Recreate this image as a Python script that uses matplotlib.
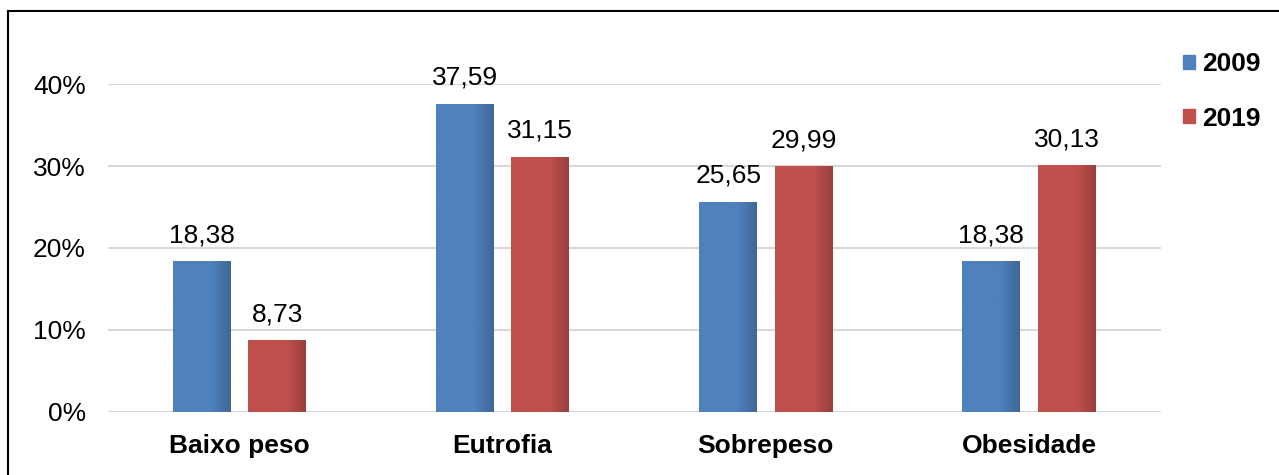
import numpy as np
import matplotlib.pyplot as plt
from matplotlib.colors import LinearSegmentedColormap
from matplotlib.lines import Line2D

plt.rcParams['font.family'] = ['Liberation Sans', 'DejaVu Sans']

categories = ['Baixo peso', 'Eutrofia', 'Sobrepeso', 'Obesidade']
series_names = ['2009', '2019']
values_2009 = [18.38, 37.59, 25.65, 18.38]
values_2019 = [8.73, 31.15, 29.99, 30.13]
yticks = [0, 10, 20, 30, 40]

colors = ['#4F81BD', '#C0504D']
dark = ['#3F6796', '#9A403D']

fig = plt.figure(figsize=(12.79, 4.75), dpi=100)
ax = fig.add_axes([0.0844, 0.133, 0.823, 0.690])

x = np.arange(len(categories))
width = 0.22
offset = 0.143

for vals, c, d, sgn in [(values_2009, colors[0], dark[0], -1), (values_2019, colors[1], dark[1], 1)]:
    bars = ax.bar(x + sgn * offset, vals, width, color=c, edgecolor='none', zorder=2)
    cmap = LinearSegmentedColormap.from_list('g', [c, c, c, d])
    grad = np.linspace(0, 1, 64).reshape(1, -1)
    for b, v in zip(bars, vals):
        x0 = b.get_x()
        im = ax.imshow(grad, cmap=cmap, aspect='auto', extent=[x0, x0 + width, 0, v],
                       zorder=3, interpolation='bicubic')
        im.set_clip_path(b)
        ax.annotate(f'{v:.2f}'.replace('.', ','), (b.get_x() + width / 2, v),
                    xytext=(0, 10), textcoords='offset points', ha='center', va='bottom',
                    fontsize=19, clip_on=False, zorder=4)

ax.set_xlim(-0.5, 3.5)
ax.set_ylim(0, 40)
ax.set_yticks(yticks)
ax.set_yticklabels([f'{t}%' for t in yticks], fontsize=19)
ax.set_xticks(x)
ax.set_xticklabels(categories, fontsize=19, fontweight='bold')
ax.tick_params(length=0)
ax.tick_params(axis='x', pad=16)
ax.tick_params(axis='y', pad=16)
ax.grid(axis='y', color='#D9D9D9', linewidth=1.5, zorder=0)
ax.set_axisbelow(True)
for s in ax.spines.values():
    s.set_visible(False)

handles = [plt.Rectangle((0, 0), 1, 1, color=c) for c in colors]
fig.legend(handles, series_names, loc='upper left', bbox_to_anchor=(0.906, 0.94),
           frameon=False, prop={'size': 19, 'weight': 'bold'}, handlelength=0.46,
           handleheight=0.46, handletextpad=0.27, labelspacing=1.15)

fig.add_artist(Line2D([8 / 1279, 8 / 1279], [0, 1 - 11 / 475], color='black', lw=1.5))
fig.add_artist(Line2D([8 / 1279, 1], [1 - 11 / 475, 1 - 11 / 475], color='black', lw=1.5))

fig.savefig('out.png', dpi=100)
